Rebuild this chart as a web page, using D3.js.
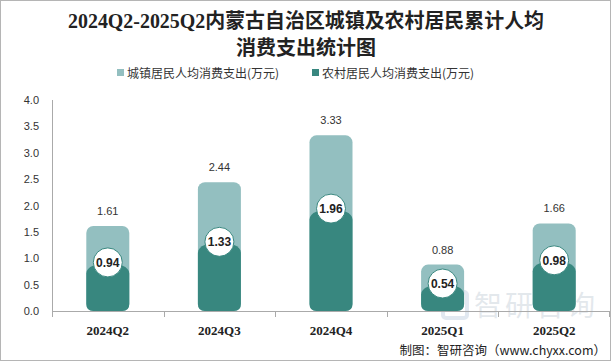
<!DOCTYPE html>
<html><head><meta charset="utf-8">
<script src="https://cdn.jsdelivr.net/npm/d3@7"></script>
<style>body{margin:0;background:#fff}svg{display:block}</style>
</head><body>
<script>
const categories = ["2024Q2","2024Q3","2024Q4","2025Q1","2025Q2"];
const urban = [1.61, 2.44, 3.33, 0.88, 1.66];
const rural = [0.94, 1.33, 1.96, 0.54, 0.98];
const yTicks = [0,0.5,1,1.5,2,2.5,3,3.5,4];
const seriesNames = ["城镇居民人均消费支出(万元)","农村居民人均消费支出(万元)"];
const colors = ["#93BFC0","#38877F"];

const W=611,H=361;
const svg=d3.select("body").append("svg").attr("width",W).attr("height",H);
svg.append("rect").attr("x",0.5).attr("y",0.5).attr("width",W-1).attr("height",H-1).attr("fill","#fff").attr("stroke","#b5b5b5");

const serif = "'Liberation Serif','DejaVu Serif','Noto Sans CJK SC',serif";
const cjk = "'Noto Sans CJK SC','Liberation Sans',sans-serif";
const tfont = "'Liberation Serif','Noto Sans CJK SC',serif";
svg.append("text").attr("x",306).attr("y",28).attr("text-anchor","middle").attr("font-family",tfont).attr("font-weight","bold").attr("font-size",20).attr("fill","#222").attr("textLength",476).attr("lengthAdjust","spacingAndGlyphs").text("2024Q2-2025Q2内蒙古自治区城镇及农村居民累计人均");
svg.append("text").attr("x",306).attr("y",55).attr("text-anchor","middle").attr("font-family",tfont).attr("font-weight","bold").attr("font-size",20).attr("fill","#222").text("消费支出统计图");

// legend
const leg=[{x:117,t:seriesNames[0],c:colors[0]},{x:312,t:seriesNames[1],c:colors[1]}];
leg.forEach(l=>{
  svg.append("rect").attr("x",l.x).attr("y",69).attr("width",7).attr("height",7).attr("fill",l.c);
  svg.append("text").attr("x",l.x+10).attr("y",77.5).attr("font-family",cjk).attr("font-size",12).attr("fill","#333").text(l.t);
});

const x=d3.scaleBand().domain(categories).range([52,610]);
const y=d3.scaleLinear().domain([0,4]).range([311,100]);

// watermark
const wm=svg.append("g").attr("opacity",0.2);
wm.append("text").attr("x",474).attr("y",316).attr("font-family",cjk).attr("font-size",28).attr("fill","#7a8fa6").attr("letter-spacing",3).text("智研咨询");
wm.append("rect").attr("x",443).attr("y",292).attr("width",24).attr("height",26).attr("rx",3).attr("fill","none").attr("stroke","#6e8fb8").attr("stroke-width",4);

// axes
svg.append("line").attr("x1",52.5).attr("x2",52.5).attr("y1",100).attr("y2",317).attr("stroke","#aaa");
svg.append("line").attr("x1",52).attr("x2",610).attr("y1",311.5).attr("y2",311.5).attr("stroke","#aaa");
categories.forEach((c,i)=>{ if(i>0) svg.append("line").attr("x1",Math.round(x(c))+0.5).attr("x2",Math.round(x(c))+0.5).attr("y1",311).attr("y2",317).attr("stroke","#aaa");});
svg.append("line").attr("x1",609.5).attr("x2",609.5).attr("y1",311).attr("y2",317).attr("stroke","#aaa");

yTicks.forEach(t=>{
  svg.append("text").attr("x",39).attr("y",y(t)+4).attr("text-anchor","end").attr("font-family","'Liberation Sans',Arial,sans-serif").attr("font-size",11).attr("fill","#333").text(t.toFixed(1));
});

const bw=43;
categories.forEach((c,i)=>{
  const cx=x(c)+x.bandwidth()/2;
  const x0=cx-bw/2;
  const yu=y(urban[i]), yr=y(rural[i]), y0=y(0);
  svg.append("rect").attr("x",x0).attr("y",yu).attr("width",bw).attr("height",y0-yu).attr("rx",7).attr("fill",colors[0]);
  const r=7, ry=12;
  const p=d3.path();
  p.moveTo(x0,yr+ry);
  p.bezierCurveTo(x0,yr-2,x0+bw,yr-2,x0+bw,yr+ry);
  p.lineTo(x0+bw,y0-r);
  p.quadraticCurveTo(x0+bw,y0,x0+bw-r,y0);
  p.lineTo(x0+r,y0);
  p.quadraticCurveTo(x0,y0,x0,y0-r);
  p.closePath();
  svg.append("path").attr("d",p.toString()).attr("fill",colors[1]);
  svg.append("circle").attr("cx",cx).attr("cy",yr+1).attr("r",14.5).attr("fill","#fff").attr("stroke",colors[1]).attr("stroke-width",1);
  svg.append("text").attr("x",cx).attr("y",yr+5.5).attr("text-anchor","middle").attr("font-family","'Liberation Sans',Arial,sans-serif").attr("font-weight","bold").attr("font-size",12).attr("fill","#222").text(rural[i].toFixed(2));
  svg.append("text").attr("x",cx).attr("y",yu-11).attr("text-anchor","middle").attr("font-family","'Liberation Sans',Arial,sans-serif").attr("font-size",11).attr("fill","#333").text(urban[i].toFixed(2));
  svg.append("text").attr("x",cx).attr("y",335).attr("text-anchor","middle").attr("font-family",serif).attr("font-weight","bold").attr("font-size",13).attr("fill","#222").text(c);
});

svg.append("text").attr("x",606).attr("y",355).attr("text-anchor","end").attr("font-family",cjk).attr("font-size",12.5).attr("fill","#222").text("制图：智研咨询（www.chyxx.com）");
</script>
</body></html>
